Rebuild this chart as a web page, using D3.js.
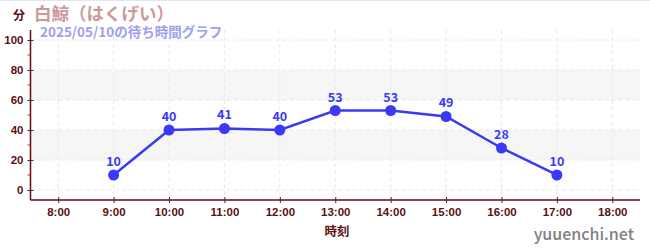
<!DOCTYPE html>
<html>
<head>
<meta charset="utf-8">
<script src="https://cdn.jsdelivr.net/npm/d3@7"></script>
<style>
  body { margin: 0; background: #fff; }
  svg { display: block; font-family: "Noto Sans CJK JP", "Noto Sans", sans-serif; }
</style>
</head>
<body>
<svg id="chart"></svg>
<script>
var hours = [9, 10, 11, 12, 13, 14, 15, 16, 17];
var waits = [10, 40, 41, 40, 53, 53, 49, 28, 10];
var xTicks = [8, 9, 10, 11, 12, 13, 14, 15, 16, 17, 18];
var yTicks = [0, 20, 40, 60, 80, 100];
var yMinor = [10, 30, 50, 70, 90];
var bands = [[20, 40], [60, 80]];

(function() {
    var width = 650, height = 250;
    var left = 30.5, right = 640, top = 30, bottom = 200;
    var axisColor = "#5c0f14";

    var svg = d3.select("#chart").attr("width", width).attr("height", height);

    var x = d3.scaleLinear().domain([7.5, 18.5]).range([left, right]);
    var y = d3.scaleLinear().domain([-6.67, 106.67]).range([bottom, top]);

    svg.append("line")
        .attr("x1", 0).attr("x2", width).attr("y1", 0.5).attr("y2", 0.5)
        .attr("stroke", "#e4e4f4");

    // grey bands
    svg.selectAll("rect.band")
        .data(bands)
        .enter().append("rect")
        .attr("class", "band")
        .attr("x", left).attr("width", right - left)
        .attr("y", d => y(d[1]))
        .attr("height", d => y(d[0]) - y(d[1]))
        .attr("fill", "#f6f6f6");

    // grid
    svg.selectAll("line.hgrid")
        .data(yTicks)
        .enter().append("line")
        .attr("x1", left).attr("x2", right)
        .attr("y1", d => y(d)).attr("y2", d => y(d))
        .attr("stroke", "#e8e8e8").attr("stroke-dasharray", "4,3");

    svg.selectAll("line.vgrid")
        .data(xTicks)
        .enter().append("line")
        .attr("x1", d => x(d)).attr("x2", d => x(d))
        .attr("y1", top).attr("y2", bottom)
        .attr("stroke", "#e8e8e8").attr("stroke-dasharray", "4,3");

    // axes
    var yAxis = svg.append("g")
        .attr("transform", `translate(${left},0)`)
        .call(d3.axisLeft(y).tickValues(yTicks).tickSize(4).tickPadding(3));
    var xAxis = svg.append("g")
        .attr("transform", `translate(0,${bottom})`)
        .call(d3.axisBottom(x).tickValues(xTicks).tickSize(4).tickPadding(4)
            .tickFormat(d => d + ":00"));

    [xAxis, yAxis].forEach(function(g) {
        g.select(".domain").attr("stroke", axisColor).attr("stroke-width", 1.5)
            .attr("d", g === xAxis ? `M${left},0H${right}` : `M0,${top}V${bottom}`);
        g.selectAll(".tick line").attr("stroke", "#333");
        g.selectAll(".tick text")
            .attr("fill", axisColor)
            .style("font-size", "11.5px")
            .style("font-weight", "bold");
    });
    xAxis.selectAll(".tick line").attr("y1", -3).attr("y2", 3);
    yAxis.selectAll(".tick line").attr("x1", -3).attr("x2", 3);

    svg.selectAll("line.minor")
        .data(yMinor)
        .enter().append("line")
        .attr("x1", left - 3).attr("x2", left)
        .attr("y1", d => y(d)).attr("y2", d => y(d))
        .attr("stroke", "#e02020");

    // titles
    svg.append("text").attr("x", 13).attr("y", 20)
        .attr("fill", axisColor).style("font-size", "12px").style("font-weight", "bold")
        .text("分");
    svg.append("text").attr("x", 34).attr("y", 20)
        .attr("fill", "#c99a9a").style("font-size", "17.5px").style("font-weight", "bold")
        .text("白鯨（はくげい）");
    svg.append("text").attr("x", 40).attr("y", 36.5)
        .attr("fill", "#a0a0ee").style("font-size", "13.5px").style("font-weight", "bold")
        .text("2025/05/10の待ち時間グラフ");
    svg.append("text").attr("x", 337).attr("y", 236)
        .attr("text-anchor", "middle")
        .attr("fill", axisColor).style("font-size", "12.5px").style("font-weight", "bold")
        .text("時刻");
    svg.append("text").attr("x", 634).attr("y", 240)
        .attr("text-anchor", "end")
        .attr("fill", "#808080").style("font-size", "16px").style("font-weight", "500")
        .text("yuuenchi.net");

    // series
    var pts = hours.map((h, i) => [h, waits[i]]);
    svg.append("path")
        .datum(pts)
        .attr("fill", "none")
        .attr("stroke", "#3a3af5")
        .attr("stroke-width", 2.5)
        .attr("d", d3.line().x(d => x(d[0])).y(d => y(d[1])));

    svg.selectAll("circle.pt")
        .data(pts)
        .enter().append("circle")
        .attr("cx", d => x(d[0])).attr("cy", d => y(d[1]))
        .attr("r", 5.5)
        .attr("fill", "#3a3af5");

    svg.selectAll("text.lbl")
        .data(pts)
        .enter().append("text")
        .attr("x", d => x(d[0])).attr("y", d => y(d[1]) - 9)
        .attr("text-anchor", "middle")
        .attr("fill", "#3a3af5")
        .style("font-size", "12.5px").style("font-weight", "bold")
        .text(d => d[1]);
})();
</script>
</body>
</html>
